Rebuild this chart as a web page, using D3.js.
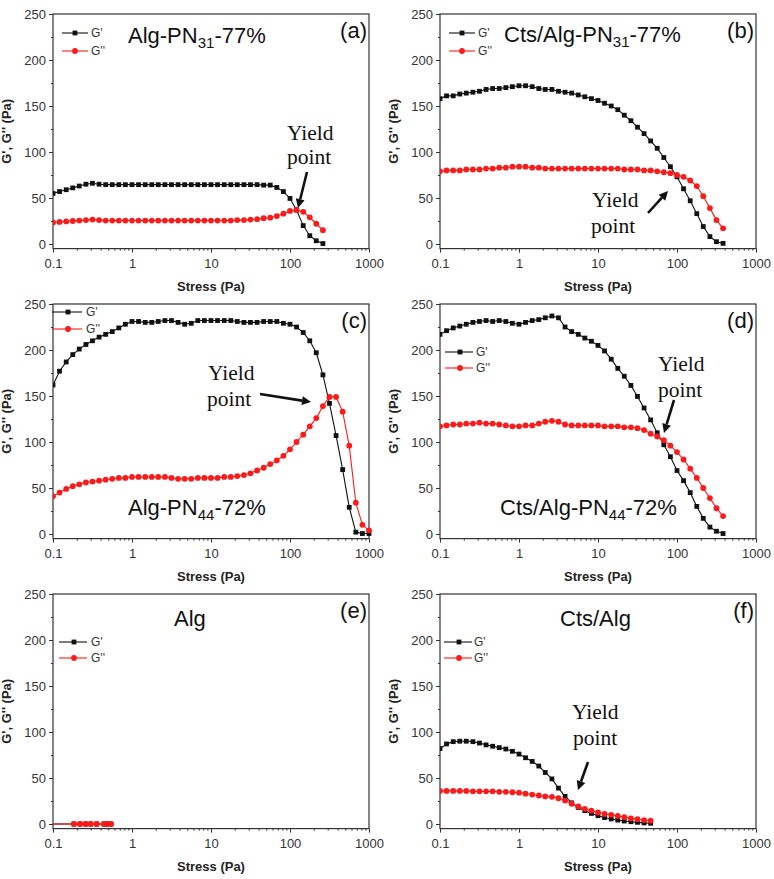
<!DOCTYPE html>
<html><head><meta charset="utf-8">
<script src="https://cdn.jsdelivr.net/npm/d3@7"></script>
<style>body{margin:0;background:#fff}svg{display:block}</style>
</head><body>
<svg id="chart" width="774" height="879"></svg>
<script>
// ---- data ----
const stress = [0.1,0.121,0.147,0.178,0.215,0.261,0.316,0.383,0.464,0.562,0.681,0.825,
  1,1.21,1.47,1.78,2.15,2.61,3.16,3.83,4.64,5.62,6.81,8.25,
  10,12.1,14.7,17.8,21.5,26.1,31.6,38.3,46.4,56.2,68.1,82.5,
  100,121,147,178,215,261,316,383,464,562,681,825,1000];
const yTicks = [0,50,100,150,200,250];
const yMinor = [25,75,125,175,225];
const xTicks = [0.1,1,10,100,1000];
const xTickLabels = ["0.1","1","10","100","1000"];

const a_Gp  = [55,57,59,61,63,65,66,65,64.5,64.5, 64.5,64.5,64.5,64.5,64.5,64.5,64.5,64.5,64.5,64.5,
  64.5,64.5,64.5,64.5,64.5,64.5,64.5,64.5,64.5,64.5, 64.5,64.5,64,64,61.5,57,49.5,37,20,9, 3.5,0.5];
const a_Gpp = [23.5,24,24.5,25,25.5,26,26.5,26,25.5,25.5, 25.5,25.5,25.5,25.5,25.5,25.5,25.5,25.5,25.5,25.5,
  25.5,25.5,25.5,25.5,25.5,25.5,25.5,25.5,26,26, 26.5,27,28,28.6,30.4,33,36,37,35,29, 22,15];
const b_Gp  = [158,161,161,163,164,165,166,168,169,169, 170,171,172,172,171,169,168,168,166,165,
  164,162,160,158,156,153,150,146,140,134, 127,120,112,104,94,84,73,60,47,33, 19,8,2.5,0.7];
const b_Gpp = [79,80,80,80,81,81,81,82,82,83, 83,84,84,84,83,83,82,82,82,82,
  82,82,82,82,82,82,82,82,81,81, 81,80,80,79,78,77,75,73,69,63, 52,39,26,17];
const c_Gp  = [162,177,187,195,201,206,210,214,217,220, 224,228,231,231,230,230,231,232,232,230,
  228,229,232,232,232,232,232,232,231,230, 230,230,231,231,231,229,228,225,219,210,
  197,173,142,107,70,29,2,0.5,0.5];
const c_Gpp = [41,45,49,52,54,56,57,58,59,60, 61,61,62,62,62,62,62,62,61,60,
  60,60,61,61,61,61,62,62,63,64, 66,69,72,76,80,85,92,100,108,117,
  126,139,149,149,133,96,34,10,4];
const d_Gp  = [217,221,224,226,228,230,231,232,231,232, 231,229,228,230,232,233,235,237,235,225,
  220,217,213,209.5,205,199,190,180,171.5,161.5, 149.5,137,124,110,97,84,69,58,45,30, 17,7.5,3,0.5];
const d_Gpp = [117,118,119,119,120,120,121,120,120,119, 118,117,117,118,118,120,122,123,122,119,
  118,118,118,118,118,117,117,117,116,116, 115,113,109,106,102,96,89,81,71,61, 50,39,28,19.5];
const e_stress = [0.09,0.184,0.22,0.259,0.30,0.357,0.442,0.478,0.542];
const e_Gp  = [0,0,0,0,0,0,0,0,0];
const e_Gpp = [0,0,0,0,0,0,0,0,0];
const f_Gp  = [82,87,89.5,90,90,89.5,88,86,84.5,83, 81.5,79,76,72,68,63,56,49,39,30,
  23,18,14.5,11.5,9,7,5.5,4.2,3.2,2.5, 1.8,1.2,0.8];
const f_Gpp = [36,36,36,36,36,35.5,35.5,35.5,35.5,35, 35,34.5,34,33,32,31,30,29.5,28,25.5,
  22,19,16.5,14.5,12.5,11,10,8.7,7.5,6.2, 5.2,4.3,3.6];

const titles = {
  a:[["Alg-PN",0],["31",1],["-77%",0]],
  b:[["Cts/Alg-PN",0],["31",1],["-77%",0]],
  c:[["Alg-PN",0],["44",1],["-72%",0]],
  d:[["Cts/Alg-PN",0],["44",1],["-72%",0]],
  e:[["Alg",0]],
  f:[["Cts/Alg",0]]
};

// ---- layout ----
const colX = [[53,369],[440,756]];
const rowTop = [14,304,594];
const plotH = 234.6;

const panels = [
  {id:"a",c:0,r:0,x:stress,gp:a_Gp,gpp:a_Gpp,title:[75,34],leg:{x1:9,x2:35,m:22,t:38,y1:19,y2:37},
   yl:{t1:[234,126],t2:[234,150],ar:[254,158,245,194]}},
  {id:"b",c:1,r:0,x:stress,gp:b_Gp,gpp:b_Gpp,title:[64,33],leg:{x1:9,x2:35,m:22,t:38,y1:19,y2:37},
   yl:{t1:[152,193],t2:[151,219],ar:[208,199,228,177]}},
  {id:"c",c:0,r:1,x:stress,gp:c_Gp,gpp:c_Gpp,title:[75,216],leg:{x1:-1,x2:29,m:15,t:33,y1:8,y2:25},
   yl:{t1:[155,76],t2:[154,102],ar:[207,90,258,98]}},
  {id:"d",c:1,r:1,x:stress,gp:d_Gp,gpp:d_Gpp,title:[60,216],leg:{x1:5,x2:33,m:20,t:36,y1:48,y2:64},
   yl:{t1:[218,67],t2:[218,93],ar:[234,96,224,129]}},
  {id:"e",c:0,r:2,x:e_stress,gp:e_Gp,gpp:e_Gpp,title:[121,37],leg:{x1:6,x2:34,m:21,t:38,y1:48,y2:64},
   yl:null},
  {id:"f",c:1,r:2,x:stress,gp:f_Gp,gpp:f_Gpp,title:[120,37],leg:{x1:4,x2:32,m:19,t:34,y1:48,y2:64},
   yl:{t1:[132,125],t2:[133,151],ar:[148,168,138,196]}}
];

const svg = d3.select("#chart");
const SANS = "Arial, 'Liberation Sans', sans-serif";
const SERIF = "'Times New Roman', 'Liberation Serif', serif";
const RED = "#ff1a1a";

panels.forEach(p => {
  const [x0,x1] = colX[p.c];
  const top = rowTop[p.r], bot = top + plotH;
  const xs = d3.scaleLog().domain([0.1,1000]).range([x0,x1]);
  const ys = d3.scaleLinear().domain([-5,250]).range([bot,top]);
  const g = svg.append("g");

  const cid = "clip"+p.id;
  svg.append("clipPath").attr("id",cid).append("rect")
    .attr("x",x0).attr("y",top-10).attr("width",x1-x0+10).attr("height",plotH+20);

  const yAx = d3.axisLeft(ys).tickValues(yTicks).tickSize(4).tickPadding(3);
  g.append("g").attr("transform",`translate(${x0},0)`).call(yAx);
  const yMin = d3.axisLeft(ys).tickValues(yMinor).tickSize(2).tickFormat("");
  g.append("g").attr("transform",`translate(${x0},0)`).call(yMin);
  const minorX = [];
  [0.1,1,10,100].forEach(d => { for (let k=2;k<10;k++) minorX.push(d*k); });
  const xAx = d3.axisBottom(xs).tickValues(xTicks).tickSize(4).tickPadding(6)
    .tickFormat((d,i)=>xTickLabels[i]);
  g.append("g").attr("transform",`translate(0,${bot})`).call(xAx);
  g.append("g").attr("transform",`translate(0,${bot})`)
    .call(d3.axisBottom(xs).tickValues(minorX).tickSize(2).tickFormat(""));
  g.selectAll(".domain").remove();
  g.selectAll(".tick line").attr("stroke","#333").attr("stroke-width",1);
  g.selectAll(".tick text").attr("font-family",SANS).attr("font-size",13).attr("fill","#333");

  g.append("rect").attr("x",x0).attr("y",top).attr("width",x1-x0).attr("height",plotH)
    .attr("fill","none").attr("stroke","#333").attr("stroke-width",1.2);

  g.append("text").attr("x",(x0+x1)/2).attr("y",bot+42).attr("text-anchor","middle")
    .attr("font-family",SANS).attr("font-weight","bold").attr("font-size",13).attr("fill","#222")
    .text("Stress (Pa)");
  g.append("text").attr("transform",`translate(${x0-42},${(top+bot)/2}) rotate(-90)`)
    .attr("text-anchor","middle").attr("font-family",SANS).attr("font-weight","bold")
    .attr("font-size",13).attr("fill","#222").text("G', G'' (Pa)");

  const dg = g.append("g").attr("clip-path",`url(#${cid})`);
  const line = d3.line().x(d=>xs(d[0])).y(d=>ys(d[1]));
  const gpD = p.gp.map((v,i)=>[p.x[i],v]);
  const gppD = p.gpp.map((v,i)=>[p.x[i],v]);
  dg.append("path").datum(gpD).attr("d",line).attr("fill","none").attr("stroke","#111").attr("stroke-width",1.1);
  dg.selectAll(null).data(gpD).join("rect")
    .attr("x",d=>xs(d[0])-2.4).attr("y",d=>ys(d[1])-2.4).attr("width",4.8).attr("height",4.8).attr("fill","#111");
  dg.append("path").datum(gppD).attr("d",line).attr("fill","none").attr("stroke",RED).attr("stroke-width",1.1);
  dg.selectAll(null).data(gppD).join("circle")
    .attr("cx",d=>xs(d[0])).attr("cy",d=>ys(d[1])).attr("r",2.9).attr("fill",RED);

  const L = p.leg;
  [[L.y1,"#111","G'","sq"],[L.y2,RED,"G''","ci"]].forEach(([yy,col,lab,sh]) => {
    g.append("line").attr("x1",x0+L.x1).attr("x2",x0+L.x2).attr("y1",top+yy).attr("y2",top+yy)
      .attr("stroke",col).attr("stroke-width",1.1);
    if (sh==="sq") g.append("rect").attr("x",x0+L.m-2.4).attr("y",top+yy-2.4).attr("width",4.8).attr("height",4.8).attr("fill",col);
    else g.append("circle").attr("cx",x0+L.m).attr("cy",top+yy).attr("r",2.9).attr("fill",col);
    g.append("text").attr("x",x0+L.t).attr("y",top+yy+4).attr("font-family",SANS).attr("font-size",12)
      .attr("fill","#333").text(lab);
  });

  const t = g.append("text").attr("x",x0+p.title[0]).attr("y",top+p.title[1])
    .attr("font-family",SANS).attr("font-size",22).attr("fill","#111");
  titles[p.id].forEach(([s,sub]) => {
    if (sub) t.append("tspan").attr("font-size",15).attr("dy",5).text(s);
    else t.append("tspan").attr("dy", t.selectAll("tspan").size() ? -5 : 0).text(s);
  });

  g.append("text").attr("x",x1-2).attr("y",top+24).attr("text-anchor","end")
    .attr("font-family",SANS).attr("font-size",22).attr("fill","#111").text(`(${p.id})`);

  if (p.yl) {
    const Y = p.yl;
    g.append("text").attr("x",x0+Y.t1[0]).attr("y",top+Y.t1[1]).attr("font-family",SERIF)
      .attr("font-size",21.5).attr("fill","#111").text("Yield");
    g.append("text").attr("x",x0+Y.t2[0]).attr("y",top+Y.t2[1]).attr("font-family",SERIF)
      .attr("font-size",21.5).attr("fill","#111").text("point");
    const [ax1,ay1,ax2,ay2] = Y.ar.map((v,i)=> i%2===0 ? x0+v : top+v);
    const ang = Math.atan2(ay2-ay1, ax2-ax1);
    const hl = 9, hw = 4.5;
    const bx = ax2 - hl*Math.cos(ang), by = ay2 - hl*Math.sin(ang);
    g.append("line").attr("x1",ax1).attr("y1",ay1).attr("x2",bx).attr("y2",by)
      .attr("stroke","#111").attr("stroke-width",2.6);
    g.append("path").attr("d",`M${ax2},${ay2}L${bx+hw*Math.sin(ang)},${by-hw*Math.cos(ang)}L${bx-hw*Math.sin(ang)},${by+hw*Math.cos(ang)}Z`)
      .attr("fill","#111");
  }
});
</script>
</body></html>
